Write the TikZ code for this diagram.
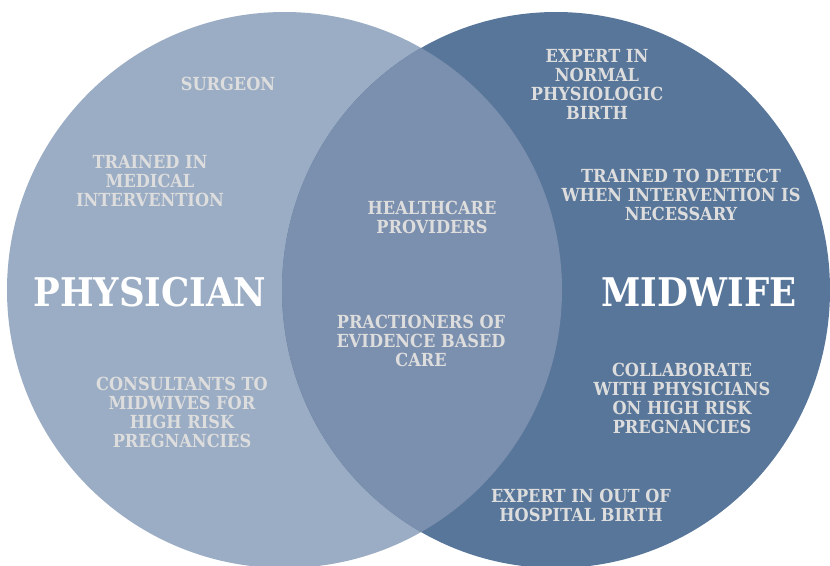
\documentclass[tikz,border=0pt]{standalone}
\usepackage{fontspec}
\setmainfont{DejaVu Serif Condensed}
\definecolor{physcol}{HTML}{9BADC4}
\definecolor{midcol}{HTML}{58769A}
\definecolor{bothcol}{HTML}{7B8FAE}
\definecolor{txtcol}{HTML}{DDDDDD}
\begin{document}
\begin{tikzpicture}[x=1pt,y=-1pt,
  item/.style={text=txtcol,align=center,font=\bfseries\fontsize{18}{19}\selectfont,inner sep=0pt},
  title/.style={text=white,font=\bfseries\fontsize{39.5}{42}\selectfont,inner sep=0pt}]
\useasboundingbox (0,0) rectangle (830,565);
% \draw[help lines,step=50] (0,0) grid (830,565);
\fill[physcol] (284.5,290) ellipse [x radius=277.5,y radius=278];
\fill[midcol] (556,290) ellipse [x radius=274,y radius=278];
\begin{scope}
\clip (284.5,290) ellipse [x radius=277.5,y radius=278];
\fill[bothcol] (556,290) ellipse [x radius=274,y radius=278];
\end{scope}
%
\node (phys) [title] at (150,292) {PHYSICIAN};
\node (mid) [title] at (699,292) {MIDWIFE};
%
\node (surg) [item] at (228,84) {SURGEON};
\node (train) [item] at (150,181) {TRAINED IN\\MEDICAL\\INTERVENTION};
\node (cons) [item] at (182,412) {CONSULTANTS TO\\MIDWIVES FOR\\HIGH RISK\\PREGNANCIES};
\node (health) [item] at (432,217) {HEALTHCARE\\PROVIDERS};
\node (pract) [item] at (421,341) {PRACTIONERS OF\\EVIDENCE BASED\\CARE};
\node (normal) [item] at (597,84) {EXPERT IN\\NORMAL\\PHYSIOLOGIC\\BIRTH};
\node (detect) [item] at (681,195) {TRAINED TO DETECT\\WHEN INTERVENTION IS\\NECESSARY};
\node (collab) [item] at (682,398) {COLLABORATE\\WITH PHYSICIANS\\ON HIGH RISK\\PREGNANCIES};
\node (hosp) [item] at (581,505) {EXPERT IN OUT OF\\HOSPITAL BIRTH};
\end{tikzpicture}
\end{document}
